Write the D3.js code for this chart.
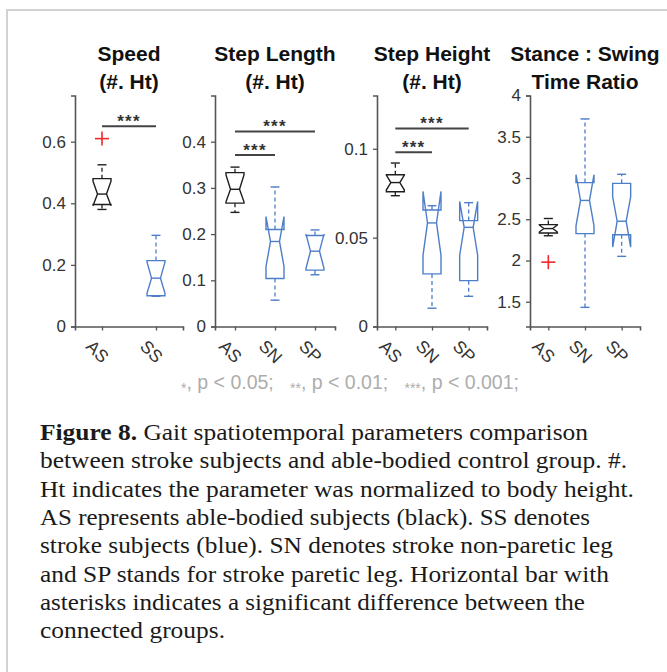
<!DOCTYPE html>
<html><head><meta charset="utf-8">
<script src="https://cdn.jsdelivr.net/npm/d3@7"></script>
<style>body{margin:0;background:#fff}svg{display:block}</style>
</head><body>
<script>
// ---------- DATA ----------
// stats per group: [lowWhisker, q1, median, q3, highWhisker, notchLo, notchHi]
const speedGroups = ["AS", "SS"];
const speedStats = [
  [0.38, 0.396, 0.43, 0.48, 0.525, 0.392, 0.472],
  [0.098, 0.10, 0.157, 0.214, 0.296, 0.108, 0.21]
];
const speedOutliers = [[0.61], []];
const speedTicks = [0, 0.2, 0.4, 0.6];
const speedTickLabels = ["0", "0.2", "0.4", "0.6"];
const speedDomain = [0, 0.75];
const speedSig = [["AS", "SS", 0.65]];

const lengthGroups = ["AS", "SN", "SP"];
const lengthStats = [
  [0.247, 0.267, 0.297, 0.333, 0.345, 0.27, 0.328],
  [0.057, 0.104, 0.184, 0.21, 0.302, 0.13, 0.238],
  [0.112, 0.122, 0.163, 0.197, 0.209, 0.126, 0.2]
];
const lengthOutliers = [[], [], []];
const lengthTicks = [0, 0.1, 0.2, 0.3, 0.4];
const lengthTickLabels = ["0", "0.1", "0.2", "0.3", "0.4"];
const lengthDomain = [0, 0.5];
const lengthSig = [["AS", "SN", 0.371], ["AS", "SP", 0.422]];

const heightGroups = ["AS", "SN", "SP"];
const heightStats = [
  [0.0736, 0.0758, 0.081, 0.0854, 0.092, 0.0768, 0.0852],
  [0.0103, 0.0296, 0.0583, 0.0656, 0.068, 0.040, 0.076],
  [0.017, 0.0258, 0.0558, 0.0596, 0.0697, 0.040, 0.0704]
];
const heightOutliers = [[], [], []];
const heightTicks = [0, 0.05, 0.1];
const heightTickLabels = ["0", "0.05", "0.1"];
const heightDomain = [0, 0.13];
const heightSig = [["AS", "SN", 0.098], ["AS", "SP", 0.1114]];

const ratioGroups = ["AS", "SN", "SP"];
const ratioStats = [
  [2.30, 2.334, 2.387, 2.435, 2.509, 2.345, 2.43],
  [1.432, 2.326, 2.728, 2.944, 3.716, 2.42, 3.04],
  [2.05, 2.313, 2.476, 2.935, 3.045, 2.163, 2.77]
];
const ratioOutliers = [[1.98], [], []];
const ratioTicks = [1.5, 2, 2.5, 3, 3.5, 4];
const ratioTickLabels = ["1.5", "2", "2.5", "3", "3.5", "4"];
const ratioDomain = [1.2, 4];
const ratioSig = [];

const panelTitles = [["Speed", "(#. Ht)"], ["Step Length", "(#. Ht)"], ["Step Height", "(#. Ht)"], ["Stance : Swing", "Time Ratio"]];
const sigLegend = ["*", ", p < 0.05;   ", "**", ", p < 0.01;   ", "***", ", p < 0.001;"];
const captionBold = "Figure 8.";
const captionLines = [
  " Gait spatiotemporal parameters comparison",
  "between stroke subjects and able-bodied control group. #.",
  "Ht indicates the parameter was normalized to body height.",
  "AS represents able-bodied subjects (black). SS denotes",
  "stroke subjects (blue). SN denotes stroke non-paretic leg",
  "and SP stands for stroke paretic leg. Horizontal bar with",
  "asterisks indicates a significant difference between the",
  "connected groups."
];

// ---------- LAYOUT ----------
const W = 667, H = 672;
const SANS = "'Liberation Sans', Arial, Helvetica, sans-serif";
const SERIF = "'Liberation Serif', 'Times New Roman', serif";
const BLACK = "#1e1e1e", BLUE = "#4d7ec8", RED = "#f02828";
const AXIS = "#555", TXT = "#333";
const yTop = 95.5, yBot = 326.5;

const panels = [
  {groups: speedGroups, stats: speedStats, out: speedOutliers, ticks: speedTicks, labels: speedTickLabels, dom: speedDomain, sig: speedSig, x0: 75, x1: 183},
  {groups: lengthGroups, stats: lengthStats, out: lengthOutliers, ticks: lengthTicks, labels: lengthTickLabels, dom: lengthDomain, sig: lengthSig, x0: 215, x1: 335},
  {groups: heightGroups, stats: heightStats, out: heightOutliers, ticks: heightTicks, labels: heightTickLabels, dom: heightDomain, sig: heightSig, x0: 377, x1: 487},
  {groups: ratioGroups, stats: ratioStats, out: ratioOutliers, ticks: ratioTicks, labels: ratioTickLabels, dom: ratioDomain, sig: ratioSig, x0: 530, x1: 640}
];

const svg = d3.select("body").append("svg").attr("width", W).attr("height", H)
  .style("background", "#fff");

// frame
svg.append("line").attr("x1", 7).attr("x2", 7).attr("y1", 10).attr("y2", H)
  .attr("stroke", "#d2d2d2").attr("stroke-width", 2);
svg.append("line").attr("x1", 6).attr("x2", W).attr("y1", 10).attr("y2", 10)
  .attr("stroke", "#d2d2d2").attr("stroke-width", 2);

const hw = 9; // box half width (px)

panels.forEach((p, pi) => {
  const g = svg.append("g");
  const x = d3.scalePoint().domain(p.groups).range([p.x0, p.x1]).padding(0.5);
  const y = d3.scaleLinear().domain(p.dom).range([yBot, yTop]);

  // title
  const cx = (p.x0 + p.x1) / 2;
  panelTitles[pi].forEach((t, k) => {
    g.append("text").attr("x", cx).attr("y", k === 0 ? 61 : 89)
      .attr("text-anchor", "middle").attr("font-family", SANS)
      .attr("font-weight", "bold").attr("font-size", 21).attr("fill", "#111").text(t);
  });

  // axes
  const ya = g.append("g").attr("transform", `translate(${p.x0},0)`)
    .call(d3.axisLeft(y).tickValues(p.ticks).tickFormat((d, i) => p.labels[i])
      .tickSizeOuter(0).tickSize(4).tickPadding(5));
  const xa = g.append("g").attr("transform", `translate(0,${yBot})`)
    .call(d3.axisBottom(x).tickSizeOuter(0).tickSize(4));
  [ya, xa].forEach(a => {
    a.select(".domain").attr("stroke", AXIS).attr("stroke-width", 1.6);
    a.selectAll(".tick line").attr("stroke", AXIS).attr("stroke-width", 1.3);
    a.selectAll("text").attr("font-family", SANS).attr("font-size", 17).attr("fill", TXT);
  });
  xa.selectAll(".tick text")
    .attr("font-size", 17.5)
    .attr("text-anchor", "middle").attr("dy", null).attr("y", null)
    .attr("transform", "translate(-5,25) rotate(45)")
    .attr("dominant-baseline", "central");

  // boxes
  p.groups.forEach((grp, i) => {
    const [lo, q1, med, q3, hi, nlo, nhi] = p.stats[i];
    const col = grp === "AS" ? BLACK : BLUE;
    const cxg = x(grp);
    const bg = g.append("g").attr("stroke", col).attr("fill", "none");
    // whiskers (dashed)
    bg.append("line").attr("x1", cxg).attr("x2", cxg).attr("y1", y(q3)).attr("y2", y(hi))
      .attr("stroke-width", 1.3).attr("stroke-dasharray", "4,3");
    bg.append("line").attr("x1", cxg).attr("x2", cxg).attr("y1", y(q1)).attr("y2", y(lo))
      .attr("stroke-width", 1.3).attr("stroke-dasharray", "4,3");
    // caps
    [lo, hi].forEach(v => bg.append("line").attr("x1", cxg - hw / 2).attr("x2", cxg + hw / 2)
      .attr("y1", y(v)).attr("y2", y(v)).attr("stroke-width", 1.4));
    // notched box
    const pts = [
      [cxg - hw, y(q1)], [cxg - hw, y(nlo)], [cxg - hw / 2, y(med)], [cxg - hw, y(nhi)], [cxg - hw, y(q3)],
      [cxg + hw, y(q3)], [cxg + hw, y(nhi)], [cxg + hw / 2, y(med)], [cxg + hw, y(nlo)], [cxg + hw, y(q1)]
    ];
    bg.append("path").attr("d", d3.line()(pts) + "Z").attr("stroke-width", 1.4)
      .attr("stroke-linejoin", "miter");
    // median
    bg.append("line").attr("x1", cxg - hw / 2).attr("x2", cxg + hw / 2)
      .attr("y1", y(med)).attr("y2", y(med)).attr("stroke-width", 1.4);
    // outliers
    p.out[i].forEach(v => {
      const og = g.append("g").attr("stroke", RED).attr("stroke-width", 1.6);
      og.append("line").attr("x1", cxg - 7).attr("x2", cxg + 7).attr("y1", y(v)).attr("y2", y(v));
      og.append("line").attr("x1", cxg).attr("x2", cxg).attr("y1", y(v) - 7).attr("y2", y(v) + 7);
    });
  });

  // significance bars
  p.sig.forEach(([a, b, lvl]) => {
    const yy = y(lvl);
    g.append("line").attr("x1", x(a)).attr("x2", x(b)).attr("y1", yy).attr("y2", yy)
      .attr("stroke", "#444").attr("stroke-width", 2);
    g.append("text").attr("x", (x(a) + x(b)) / 2).attr("y", yy + 0.5)
      .attr("text-anchor", "middle").attr("font-family", SANS).attr("font-weight", "bold")
      .attr("font-size", 17).attr("letter-spacing", 1.2).attr("fill", "#333").text("***");
  });
});

// significance legend
const lg = svg.append("text").attr("x", 350).attr("y", 389).attr("text-anchor", "middle")
  .attr("font-family", SANS).attr("font-size", 19.5).attr("fill", "#adadad")
  .style("white-space", "pre");
sigLegend.forEach((s, i) => {
  const t = lg.append("tspan").text(s);
  if (i % 2 === 0) t.attr("font-size", 14).attr("dy", 4);
  else t.attr("dy", -4);
});

// caption
const capWidths = [548, 587, 594, 550, 573, 569, 545, 185];
captionLines.forEach((line, i) => {
  const t = svg.append("text").attr("x", 40).attr("y", 440 + i * 28.3)
    .attr("font-family", SERIF).attr("font-size", 22.5).attr("fill", "#1a1a1a")
    .attr("textLength", capWidths[i]).attr("lengthAdjust", "spacingAndGlyphs");
  if (i === 0) t.append("tspan").attr("font-weight", "bold").text(captionBold);
  t.append("tspan").text(line);
});
</script>
</body></html>
